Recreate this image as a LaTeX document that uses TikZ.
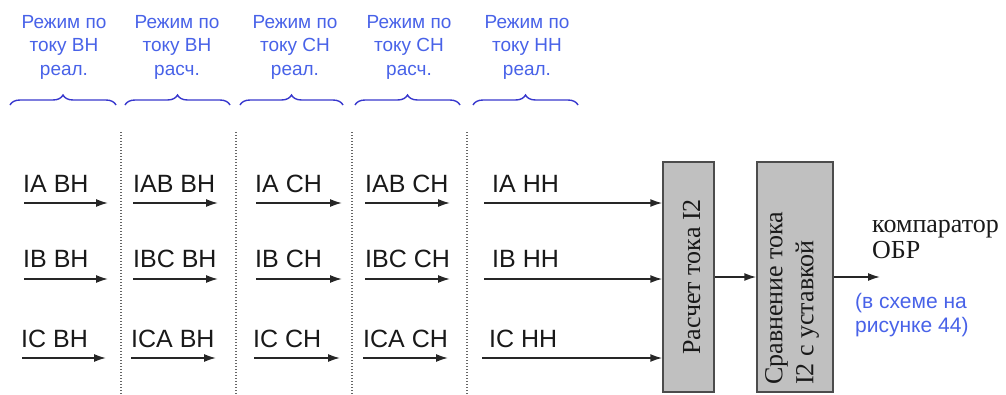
\documentclass[tikz,border=0pt]{standalone}
\usepackage{fontspec}
\setmainfont{Liberation Sans}
\newfontfamily\serifrm{Liberation Serif}
\usetikzlibrary{arrows.meta,decorations.pathreplacing}
\definecolor{hblue}{RGB}{72,98,232}
\definecolor{bblue}{RGB}{55,55,205}
\definecolor{boxgray}{RGB}{192,192,192}
\begin{document}
\begin{tikzpicture}[x=1pt,y=-1pt,
  lbl/.style={font=\fontsize{25}{30}\selectfont, anchor=base west, inner sep=0pt, text=black!90},
  hdr/.style={font=\fontsize{19}{23.5}\selectfont, text=hblue, align=center, inner sep=0pt},
  note/.style={font=\fontsize{21}{24}\selectfont, text=hblue, anchor=base west, inner sep=0pt},
  sig/.style={draw=black!85, line width=1.6pt, -{Latex[length=12pt,width=8pt]}},
  sepline/.style={draw=black!60, line width=1.4pt, dash pattern=on 1.4pt off 1.6pt},
  brc/.style={draw=bblue, line width=1.4pt, decorate, decoration={brace, amplitude=10pt}},
  blk/.style={draw=black!70, line width=1.4pt, fill=boxgray, inner sep=0pt},
  sertext/.style={font=\serifrm\fontsize{26}{31}\selectfont, inner sep=0pt, text=black!90}]
\useasboundingbox (0,0) rectangle (1006,394);

% headers
\node[hdr] (h1) at (64,47) {Режим по\\току ВН\\реал.};
\node[hdr] (h2) at (177,47) {Режим по\\току ВН\\расч.};
\node[hdr] (h3) at (295,47) {Режим по\\току СН\\реал.};
\node[hdr] (h4) at (409,47) {Режим по\\току СН\\расч.};
\node[hdr] (h5) at (527,47) {Режим по\\току НН\\реал.};

% braces
\foreach \i/\l/\r in {1/10/116, 2/125/230, 3/240/343, 4/355/460, 5/473/578}{
  \coordinate (bl\i) at (\l,105);
  \coordinate (br\i) at (\r,105);
  \draw[brc] (bl\i) -- (br\i);
}

% separators
\foreach \i/\x in {1/121, 2/236, 3/352, 4/467}{
  \coordinate (st\i) at (\x,132);
  \coordinate (sb\i) at (\x,394);
  \draw[sepline] (st\i) -- (sb\i);
}

% blocks
\node[blk, minimum width=51pt, minimum height=230pt] (box1) at (688.5,277) {};
\node[blk, minimum width=76pt, minimum height=230pt] (box2) at (795,277) {};
\node[sertext, rotate=90, anchor=base] (t1) at (700,277) {Расчет тока I2};
\node[sertext, rotate=90, anchor=north west, align=left] (t2) at (765,385) {Сравнение тока\\I2 с уставкой};

% signal columns
\foreach \c/\lx/\ax/\bx/\ta/\tb/\tc in {
  1/23/24/108/IA ВН/IB ВН/IC ВН,
  2/133/133/218/IAB ВН/IBC ВН/ICA ВН,
  3/255/256/342/IA СН/IB СН/IC СН,
  4/365/365/450/IAB СН/IBC СН/ICA СН}{
  \node[lbl] (l\c a) at (\lx,192) {\ta};
  \node[lbl] (l\c b) at (\lx,267) {\tb};
  \node[lbl] (l\c c) at (\lx-2,347) {\tc};
  \coordinate (s\c a) at (\ax,203);   \coordinate (e\c a) at (\bx,203);
  \coordinate (s\c b) at (\ax,279);   \coordinate (e\c b) at (\bx,279);
  \coordinate (s\c c) at (\ax-2,358); \coordinate (e\c c) at (\bx-2,358);
  \draw[sig] (s\c a) -- (e\c a);
  \draw[sig] (s\c b) -- (e\c b);
  \draw[sig] (s\c c) -- (e\c c);
}

% column 5 into block 1
\node[lbl] (l5a) at (492,192) {IA НН};
\node[lbl] (l5b) at (492,267) {IB НН};
\node[lbl] (l5c) at (489,347) {IC НН};
\coordinate (s5a) at (484,203);
\coordinate (s5b) at (484,279);
\coordinate (s5c) at (482,358);
\draw[sig] (s5a) -- (s5a -| box1.west);
\draw[sig] (s5b) -- (s5b -| box1.west);
\draw[sig] (s5c) -- (s5c -| box1.west);

% block connections
\draw[sig] (box1.east) -- (box2.west);
\coordinate (out) at (880,277);
\draw[sig] (box2.east) -- (out);

% output texts
\node[sertext, anchor=base west] (c1) at (872,232) {компаратор};
\node[sertext, anchor=base west] (c2) at (872,258) {ОБР};
\node[note] (n1) at (855,308) {(в схеме на};
\node[note] (n2) at (855,332) {рисунке 44)};
\end{tikzpicture}
\end{document}
